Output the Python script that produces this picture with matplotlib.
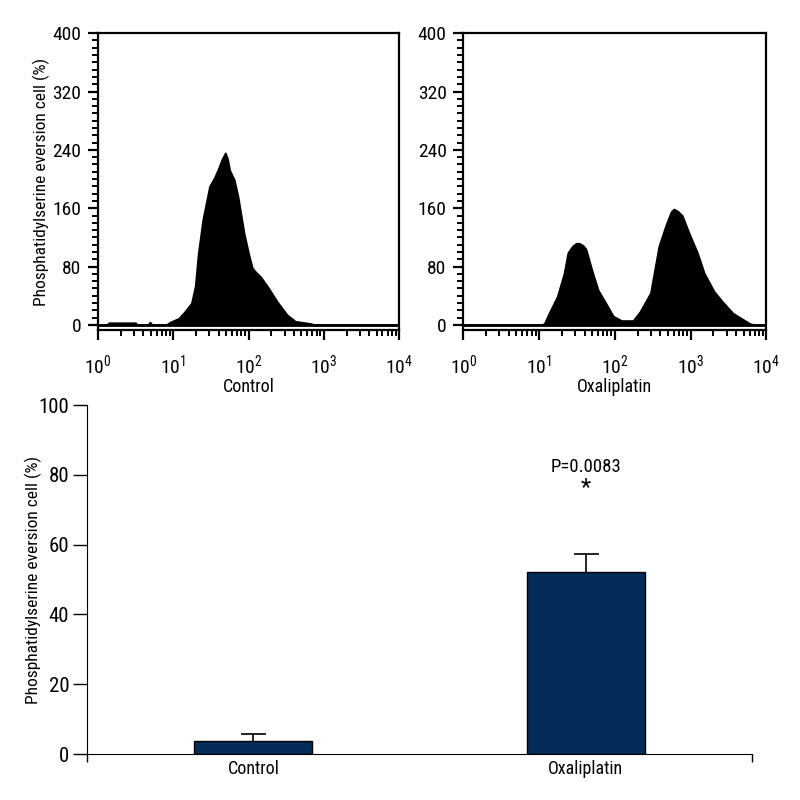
import matplotlib
matplotlib.use("Agg")
import matplotlib.pyplot as plt
import numpy as np
from matplotlib import font_manager
from matplotlib.ticker import MultipleLocator, LogLocator, NullFormatter

# pick a narrow-ish font if one is around
names = set(f.name for f in font_manager.fontManager.ttflist)
fam = 'DejaVu Sans'
for cand in ['Liberation Sans Narrow', 'Roboto Condensed', 'Noto Sans Condensed',
             'Open Sans Condensed', 'Liberation Sans']:
    if cand in names:
        fam = cand
        break
plt.rcParams['font.family'] = [fam, 'DejaVu Sans']
plt.rcParams['mathtext.fontset'] = 'custom'
plt.rcParams['mathtext.rm'] = fam

# flow cytometry histograms (log10 of intensity, counts)
ctrl_logx = [0.0, 0.12, 0.14, 0.5, 0.52, 0.66, 0.69, 0.72, 0.9, 0.96, 1.07, 1.15, 1.24, 1.29, 1.33,
             1.39, 1.48, 1.55, 1.60, 1.64, 1.67, 1.69, 1.72, 1.75, 1.81, 1.86, 1.94, 2.0, 2.05, 2.1,
             2.16, 2.25, 2.38, 2.51, 2.62, 2.82, 2.89, 4.0]
ctrl_count = [0, 0, 3, 3, 0, 0, 4, 0, 0, 4, 9, 18, 30, 53, 98,
              144, 190, 203, 215, 226, 232, 236, 228, 212, 199, 176, 126, 98, 78, 72,
              66, 53, 32, 14, 5, 2, 0, 0]

oxa_logx = [0.0, 1.03, 1.07, 1.13, 1.24, 1.33, 1.38, 1.44, 1.49, 1.53, 1.58, 1.62, 1.71, 1.78, 1.87,
            1.98, 2.09, 2.24, 2.33, 2.47, 2.58, 2.67, 2.74, 2.78, 2.83, 2.89, 2.98, 3.09, 3.18,
            3.31, 3.42, 3.56, 3.78, 3.85, 4.0]
oxa_count = [0, 0, 2, 16, 39, 71, 99, 108, 112, 112, 109, 104, 71, 48, 32,
             12, 6, 6, 18, 44, 108, 136, 155, 159, 156, 150, 126, 99, 71,
             46, 32, 16, 2, 0, 0]

# bar chart
groups = ['Control', 'Oxaliplatin']
means = [3.8, 52.1]
errs = [1.8, 5.1]
pval_text = 'P=0.0083'

fig = plt.figure(figsize=(8, 8), dpi=100, facecolor='w')


def histo(ax, logx, counts, label, ylabel=None):
    xs = 10 ** np.array(logx)
    ax.fill_between(xs, 0, counts, color='black', linewidth=1.2, edgecolor='black')
    ax.plot([1, 1e4], [0, 0], color='black', lw=2)
    ax.set_xscale('log')
    ax.set_xlim(1, 1e4)
    ax.set_ylim(-7, 400)
    ax.set_yticks(np.arange(0, 401, 80))
    ax.yaxis.set_minor_locator(MultipleLocator(10))
    ax.xaxis.set_major_locator(LogLocator(base=10, numticks=10))
    ax.xaxis.set_minor_locator(LogLocator(base=10, subs=np.arange(2, 10), numticks=20))
    ax.xaxis.set_minor_formatter(NullFormatter())
    ax.tick_params(which='major', length=7, width=1.6, labelsize=14, pad=5)
    ax.tick_params(which='minor', length=4, width=1.4)
    ax.tick_params(axis='x', which='major', pad=10)
    for s in ax.spines.values():
        s.set_linewidth(1.6)
    ax.set_xlabel(label, fontsize=13, labelpad=0)
    if ylabel:
        ax.set_ylabel(ylabel, fontsize=12.5)
        ax.yaxis.set_label_coords(-0.159, 0.5)


ax1 = fig.add_axes([0.1225, 0.5875, 0.3765, 0.371])
histo(ax1, ctrl_logx, ctrl_count, 'Control', 'Phosphatidylserine eversion cell (%)')
ax2 = fig.add_axes([0.579, 0.5875, 0.379, 0.371])
histo(ax2, oxa_logx, oxa_count, 'Oxaliplatin')

ax3 = fig.add_axes([0.109, 0.0575, 0.831, 0.436])
xs = np.arange(len(groups))
ax3.errorbar(xs, means, yerr=errs, fmt='none', ecolor='black', elinewidth=1.2,
             capsize=9, capthick=1.2, zorder=1)
ax3.bar(xs, means, width=0.355, color='#032c58', edgecolor='black', linewidth=1, zorder=2)
ax3.set_xlim(-0.5, 1.5)
ax3.set_ylim(0, 100)
ax3.set_yticks(np.arange(0, 101, 20))
ax3.set_xticks(xs)
ax3.set_xticklabels(groups)
ax3.set_xticks([-0.5, 1.5], minor=True)
ax3.tick_params(axis='x', which='major', length=0, labelsize=13, pad=4)
ax3.tick_params(axis='x', which='minor', length=6, width=1)
ax3.tick_params(axis='y', length=10, width=1, labelsize=15, pad=3)
ax3.spines['top'].set_visible(False)
ax3.spines['right'].set_visible(False)
ax3.set_ylabel('Phosphatidylserine eversion cell (%)', fontsize=12.5)
ax3.yaxis.set_label_coords(-0.068, 0.5)
ax3.text(xs[1], 82.2, pval_text, ha='center', va='center', fontsize=13.5)
ax3.text(xs[1], 76.5, '*', ha='center', va='center', fontsize=17)

fig.savefig('out.png', dpi=100)
